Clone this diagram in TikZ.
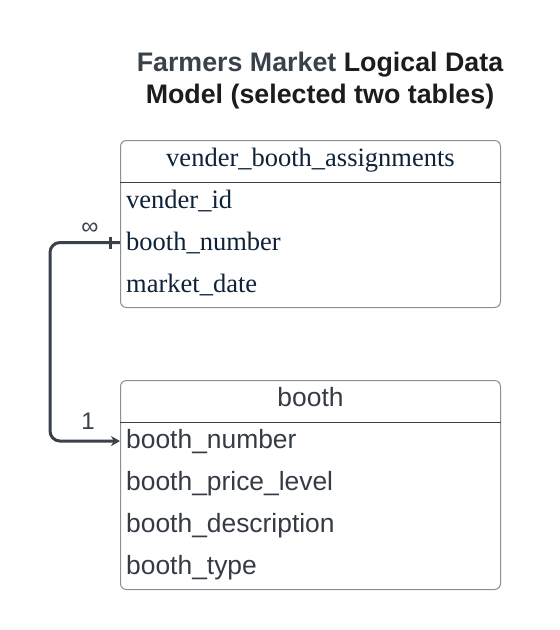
\documentclass[tikz,border=0pt]{standalone}
\usepackage{fontspec}
\setmainfont{Liberation Sans}
\newfontfamily\vbafont{Liberation Serif}
\usetikzlibrary{arrows.meta,positioning}
\definecolor{linkgray}{HTML}{3A414A}
\definecolor{framegray}{HTML}{8A8F96}
\definecolor{vbatext}{HTML}{0E2238}
\definecolor{bthtext}{HTML}{353B45}
\definecolor{titledark}{HTML}{1C1C1C}

\tikzset{
  title/.style={anchor=base, inner sep=0pt, text=titledark, font=\bfseries\fontsize{26.8}{32}\selectfont},
  table/.style={draw=framegray, line width=1pt, rounded corners=6pt, minimum width=380pt, anchor=north west, inner sep=0pt},
  vbafield/.style={anchor=base west, inner sep=0pt, text=vbatext, font=\vbafont\fontsize{26.5}{30}\selectfont},
  bthfield/.style={anchor=base west, inner sep=0pt, text=bthtext, font=\fontsize{26.4}{30}\selectfont},
  rule/.style={draw=linkgray, line width=1pt},
  link/.style={draw=linkgray, line width=3pt, rounded corners=10pt},
  card/.style={inner sep=0pt, text=linkgray, font=\fontsize{24}{26}\selectfont},
}

\begin{document}
\begin{tikzpicture}[x=1pt,y=-1pt]
\useasboundingbox (0,0) rectangle (560,630);

\node[title] (T1) at (320,71) {\textcolor{linkgray}{Farmers Market} Logical Data};
\node[title] (T2) at ([shift={(0,32)}]T1.base) {Model (selected two tables)};

% vender_booth_assignments
\node[table, minimum height=167pt] (vba) at (120,140) {};
\draw[rule] ([shift={(0,42)}]vba.north west) -- ([shift={(0,42)}]vba.north east);
\node[vbafield, anchor=base] (vbahead) at ([shift={(0,26)}]vba.north) {vender\_booth\_assignments};
\node[vbafield] (vbaid) at ([shift={(6,68)}]vba.north west) {vender\_id};
\node[vbafield] (vbabn) at ([shift={(0,42)}]vbaid.base west) {booth\_number};
\node[vbafield] (vbamd) at ([shift={(0,42)}]vbabn.base west) {market\_date};

% booth
\node[table, minimum height=209pt] (bth) at (120,380) {};
\draw[rule] ([shift={(0,42)}]bth.north west) -- ([shift={(0,42)}]bth.north east);
\node[bthfield, anchor=base] (bthhead) at ([shift={(0,26)}]bth.north) {booth};
\node[bthfield] (bthbn) at ([shift={(6,68)}]bth.north west) {booth\_number};
\node[bthfield] (bthpl) at ([shift={(0,42)}]bthbn.base west) {booth\_price\_level};
\node[bthfield] (bthds) at ([shift={(0,42)}]bthpl.base west) {booth\_description};
\node[bthfield] (bthty) at ([shift={(0,42)}]bthds.base west) {booth\_type};

% relationship
\coordinate (vbaend) at (vbabn.west -| vba.west);
\coordinate (bthend) at (bthbn.west -| bth.west);
\draw[link, -{Stealth[length=9pt,width=10pt]}] (vbaend) -- ++(-70,0) |- (bthend);
\coordinate (vbabar) at ([shift={(-10,0)}]vbaend);
\draw[link] ([shift={(0,-6)}]vbabar) -- ([shift={(0,6)}]vbabar);
\node[card] (many) at ([shift={(-30,-14)}]vbaend) {∞};
\node[card] (one) at ([shift={(-32,-20)}]bthend) {1};
\end{tikzpicture}
\end{document}
